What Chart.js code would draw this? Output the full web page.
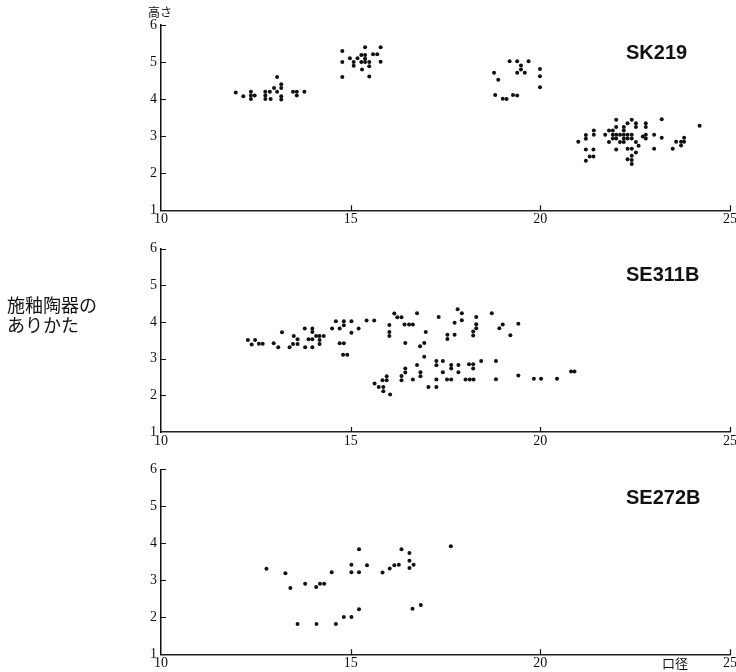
<!DOCTYPE html>
<html><head><meta charset="utf-8">
<script src="https://cdn.jsdelivr.net/npm/chart.js@4"></script>
<style>
body{margin:0;background:#fff;width:736px;height:672px;position:relative;overflow:hidden;}
canvas{position:absolute;left:0;}
.t{position:absolute;font-family:"Liberation Sans",Arial,sans-serif;font-weight:bold;font-size:20px;line-height:20px;color:#111;white-space:nowrap;}
.j{position:absolute;font-family:"Noto Sans CJK JP",sans-serif;color:#111;white-space:nowrap;}
</style></head><body>
<canvas id="k1" width="736" height="232" style="top:0"></canvas>
<canvas id="k2" width="736" height="222" style="top:232px"></canvas>
<canvas id="k3" width="736" height="218" style="top:454px"></canvas>
<div class="t" style="left:626px;top:42px">SK219</div>
<div class="t" style="left:626px;top:264px">SE311B</div>
<div class="t" style="left:626px;top:487px">SE272B</div>
<div class="j" style="left:148px;top:6px;font-size:12px;line-height:12px">高さ</div>
<div class="j" style="left:662px;top:656px;font-size:13px;line-height:13px">口径</div>
<div class="j" style="left:7px;top:294px;font-size:18px;line-height:20px">施釉陶器の<br>ありかた</div>
<script>
const xTicks = [10, 15, 20, 25];
const yTicks = [1, 2, 3, 4, 5, 6];
const panelNames = ["SK219", "SE311B", "SE272B"];

const sk219X = [11.97,12.17,12.37,12.37,12.37,12.47,12.75,12.75,12.75,12.89,12.87,12.98,13.06,13.06,13.17,13.17,13.17,13.17,13.48,13.58,13.58,13.78,
14.78,14.78,14.78,14.98,15.08,15.08,15.18,15.38,15.28,15.38,15.38,15.28,15.38,15.49,15.49,15.30,15.49,15.59,15.70,15.79,15.79,
18.78,18.89,18.81,19.01,19.11,19.28,19.39,19.19,19.39,19.49,19.49,19.39,19.59,19.69,19.99,19.99,19.99,
21.0,21.2,21.2,21.2,21.2,21.3,21.4,21.4,21.41,21.41,21.71,21.81,21.81,21.91,21.91,21.91,22.0,22.0,22.0,22.0,22.0,22.1,22.1,
22.2,22.2,22.2,22.2,22.2,22.3,22.3,22.3,22.3,22.3,22.41,22.41,22.41,22.41,22.41,22.41,22.41,22.52,22.52,22.52,22.52,22.59,22.7,
22.78,22.78,22.78,22.78,23.0,23.0,23.2,23.2,23.49,23.58,23.71,23.71,23.79,23.79,24.2];
const sk219Y = [4.18,4.08,4.2,4.1,4.0,4.1,4.2,4.1,4.0,4.0,4.2,4.3,4.6,4.2,4.4,4.3,4.08,3.99,4.2,4.2,4.1,4.2,
5.3,5.0,4.6,5.1,5.0,4.9,5.1,5.4,5.19,5.19,5.09,5.0,5.0,5.0,4.89,4.8,4.61,5.21,5.21,5.4,5.01,
4.71,4.52,4.11,4.01,4.0,4.11,4.1,5.02,5.02,4.91,4.8,4.71,4.71,5.02,4.81,4.62,4.32,
2.85,3.03,2.93,2.64,2.34,2.45,2.45,2.64,3.15,3.04,3.04,3.15,2.84,3.15,3.04,2.94,3.44,3.25,3.04,2.94,2.64,3.04,2.84,
3.25,3.15,3.04,2.94,2.84,3.35,3.04,2.94,2.66,2.38,3.44,3.04,2.94,2.66,2.47,2.36,2.25,3.35,3.25,2.84,2.56,2.74,2.99,
3.35,3.25,3.04,2.94,3.04,2.66,3.46,2.96,2.66,2.85,2.75,2.85,2.85,2.96,3.28];

const se311bX = [12.29,12.39,12.48,12.58,12.68,12.97,13.09,13.19,13.39,13.48,13.5,13.6,13.6,13.79,13.8,13.89,13.99,13.99,13.99,13.99,
14.09,14.18,14.18,14.18,14.29,14.51,14.61,14.71,14.71,14.82,14.82,14.82,14.8,14.91,15.02,15.02,15.21,
15.42,15.62,16.02,16.02,16.02,16.15,16.23,16.34,16.42,16.54,16.64,16.75,16.98,16.44,16.83,16.94,17.32,17.55,17.55,17.74,17.74,
17.82,17.93,17.93,18.31,18.31,18.31,18.23,18.23,18.72,18.92,19.01,19.21,19.42,
16.94,16.75,16.44,16.44,16.84,16.84,16.64,16.34,16.34,15.95,15.95,15.84,15.63,15.74,15.86,15.86,16.04,17.05,17.26,17.26,17.26,17.26,
17.43,17.43,17.54,17.65,17.65,17.65,17.84,17.84,18.03,18.14,18.24,18.12,18.23,18.23,18.44,18.83,18.83,19.42,19.83,20.02,20.44,20.81,20.9];
const se311bY = [3.51,3.39,3.51,3.41,3.41,3.42,3.31,3.72,3.31,3.4,3.62,3.53,3.4,3.82,3.31,3.53,3.82,3.73,3.53,3.31,
3.62,3.62,3.51,3.4,3.62,3.82,4.02,3.82,3.42,3.42,3.91,4.02,3.11,3.11,4.02,3.71,3.82,
4.04,4.04,3.92,3.73,3.62,4.23,4.13,4.13,3.93,3.93,3.93,4.24,3.73,3.43,3.34,3.43,4.14,3.65,3.54,3.65,3.98,
4.35,4.24,4.05,4.14,3.94,3.83,3.74,3.63,4.24,3.83,3.93,3.64,3.95,
3.05,2.83,2.73,2.62,2.63,2.52,2.43,2.53,2.41,2.52,2.41,2.41,2.32,2.23,2.23,2.11,2.02,2.23,2.23,2.43,2.82,2.94,
2.94,2.63,2.43,2.43,2.73,2.83,2.83,2.63,2.43,2.43,2.43,2.85,2.85,2.73,2.94,2.94,2.44,2.54,2.45,2.45,2.45,2.65,2.65];

const se272bX = [12.78,13.28,13.41,13.6,13.8,14.09,14.1,14.19,14.3,14.5,14.61,14.82,15.02,15.02,15.02,15.22,15.22,15.22,
15.43,15.84,16.03,16.15,16.27,16.34,16.55,16.55,16.55,16.66,16.63,16.85,17.64];
const se272bY = [3.31,3.19,2.79,1.82,2.91,2.82,1.82,2.91,2.91,3.22,1.82,2.01,2.01,3.22,3.42,3.84,3.22,2.22,
3.41,3.21,3.32,3.41,3.42,3.84,3.74,3.53,3.33,3.42,2.23,2.33,3.92];

const tickFont = {family: '"Liberation Serif", "Times New Roman", serif', size: 14};

const inwardTicks = {
  id: 'inwardTicks',
  afterDraw(chart) {
    const {ctx, chartArea: a, scales: {x, y}} = chart;
    ctx.save();
    ctx.strokeStyle = '#111';
    ctx.lineWidth = 1.2;
    ctx.beginPath();
    y.ticks.forEach(t => {
      if (t.value === yTicks[0]) return;
      const py = Math.round(y.getPixelForValue(t.value)) + 0.5;
      ctx.moveTo(a.left, py); ctx.lineTo(a.left + 5, py);
    });
    x.ticks.forEach(t => {
      if (t.value === xTicks[0]) return;
      const px = Math.round(x.getPixelForValue(t.value)) + 0.5;
      ctx.moveTo(px, a.bottom); ctx.lineTo(px, a.bottom - 5);
    });
    ctx.stroke();
    ctx.restore();
  }
};

function makePanel(id, xs, ys, padTop, xAxisH, name) {
  const pts = xs.map((v, i) => ({x: v, y: ys[i]}));
  new Chart(document.getElementById(id), {
    type: 'scatter',
    data: {datasets: [{label: name, data: pts, backgroundColor: '#111', borderColor: '#111',
      pointRadius: 2, pointBorderWidth: 0, pointHoverRadius: 2}]},
    options: {
      responsive: false, animation: false,
      layout: {padding: {top: padTop, right: 6, left: 0, bottom: 0}},
      plugins: {legend: {display: false}, tooltip: {enabled: false}},
      scales: {
        x: {type: 'linear', min: xTicks[0], max: xTicks[xTicks.length - 1],
          afterBuildTicks: s => { s.ticks = xTicks.map(v => ({value: v})); },
          ticks: {font: tickFont, color: '#111', padding: 1, maxRotation: 0, autoSkip: false},
          grid: {display: false, drawTicks: false},
          border: {display: true, color: '#222', width: 1.5},
          afterFit: s => { s.height = xAxisH; s.paddingLeft = 0; s.paddingRight = 0; }
        },
        y: {type: 'linear', min: yTicks[0], max: yTicks[yTicks.length - 1],
          afterBuildTicks: s => { s.ticks = yTicks.map(v => ({value: v})); },
          ticks: {font: tickFont, color: '#111', padding: 4},
          grid: {display: false, drawTicks: false},
          border: {display: true, color: '#111', width: 1.5},
          afterFit: s => { s.width = 161; s.paddingTop = 0; s.paddingBottom = 0; }
        }
      }
    },
    plugins: [inwardTicks]
  });
}

makePanel('k1', sk219X, sk219Y, 25, 21.7, panelNames[0]);
makePanel('k2', se311bX, se311bY, 16.7, 22, panelNames[1]);
makePanel('k3', se272bX, se272bY, 15.3, 17.7, panelNames[2]);
</script>
</body></html>
